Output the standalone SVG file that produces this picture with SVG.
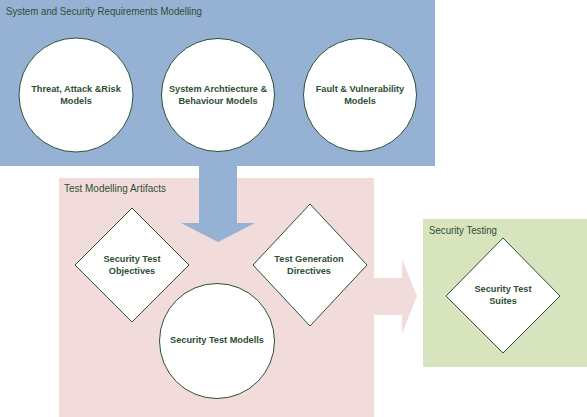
<svg xmlns="http://www.w3.org/2000/svg" width="587" height="417" viewBox="0 0 587 417">
<style>
.title{font-family:"Liberation Sans",Arial,sans-serif;font-size:10.5px;fill:#2d4f34}
.lbl{font-family:"Liberation Sans",Arial,sans-serif;font-size:9.2px;font-weight:bold;fill:#2d4f34;text-anchor:middle}
.node{fill:#ffffff;stroke:#2d4f34;stroke-width:1}
</style>
<rect width="587" height="417" fill="#ffffff"/>
<g id="group-requirements">
<rect x="0" y="0" width="435" height="166" fill="#95b1d3"/>
<text class="title" x="6" y="15" textLength="196" lengthAdjust="spacingAndGlyphs">System and Security Requirements Modelling</text>
</g>
<g id="group-artifacts">
<rect x="59" y="178" width="315" height="239" fill="#f2dcdb"/>
<text class="title" x="64" y="192" textLength="102" lengthAdjust="spacingAndGlyphs">Test Modelling Artifacts</text>
</g>
<g id="connectors">
<polygon points="199,166 237,166 237,223 255,223 218,242 181,223 199,223" fill="#95b1d3"/>
<polygon points="374,278 402,278 402,259 417,296 402,334 402,315 374,315" fill="#f2dcdb"/>
</g>
<g id="group-testing">
<rect x="423" y="219" width="164" height="148" fill="#d7e4bd"/>
<text class="title" x="429" y="234" textLength="68" lengthAdjust="spacingAndGlyphs">Security Testing</text>
</g>
<g id="threat">
<circle class="node" cx="76" cy="95" r="57"/>
<text class="lbl" x="76" y="92">Threat, Attack &amp;Risk</text>
<text class="lbl" x="76" y="104">Models</text>
</g>
<g id="architecture">
<circle class="node" cx="218" cy="95" r="56.5"/>
<text class="lbl" x="218" y="92">System Archtiecture &amp;</text>
<text class="lbl" x="218" y="104">Behaviour Models</text>
</g>
<g id="fault">
<circle class="node" cx="360" cy="95" r="56.5"/>
<text class="lbl" x="360" y="92">Fault &amp; Vulnerability</text>
<text class="lbl" x="360" y="104">Models</text>
</g>
<g id="objectives">
<polygon class="node" points="132,208 189,265 132,322 75,265"/>
<text class="lbl" x="132" y="262">Security Test</text>
<text class="lbl" x="132" y="274">Objectives</text>
</g>
<g id="directives">
<polygon class="node" points="310,204 367,265 310,326 253,265"/>
<text class="lbl" x="309" y="262">Test Generation</text>
<text class="lbl" x="309" y="274">Directives</text>
</g>
<g id="models">
<circle class="node" cx="217" cy="341" r="57.5"/>
<text class="lbl" x="217" y="343">Security Test Modells</text>
</g>
<g id="suites">
<polygon class="node" points="503,238 560,296 503,353 446,296"/>
<text class="lbl" x="503" y="292">Security Test</text>
<text class="lbl" x="503" y="304">Suites</text>
</g>
</svg>
